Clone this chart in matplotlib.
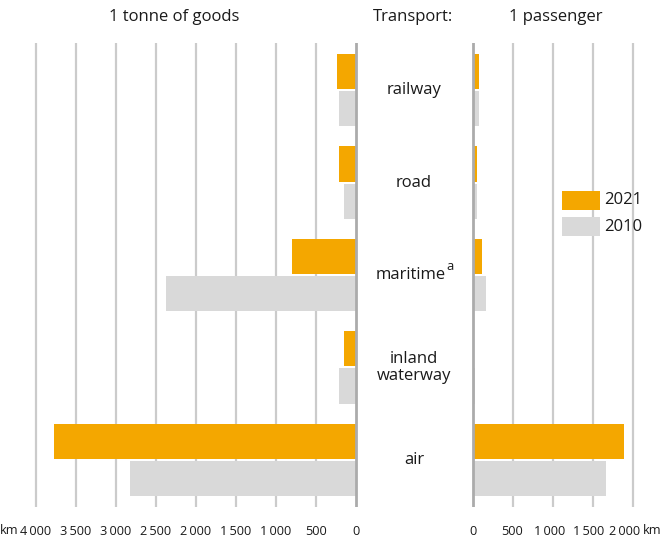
import matplotlib
matplotlib.use("Agg")
import matplotlib.pyplot as plt
import matplotlib.transforms as mtransforms
from matplotlib.patches import Rectangle
import numpy as np

plt.rcParams['font.family'] = ['Open Sans', 'DejaVu Sans']

categories = ["railway", "road", "maritime", "inland\nwaterway", "air"]
goods_2021 = [235, 210, 800, 145, 3770]
goods_2010 = [210, 145, 2370, 210, 2820]
pass_2021 = [75, 50, 112, 0, 1890]
pass_2010 = [75, 50, 162, 20, 1660]
goods_ticks = [4000, 3500, 3000, 2500, 2000, 1500, 1000, 500, 0]
pass_ticks = [0, 500, 1000, 1500, 2000]
series_labels = ["2021", "2010"]

ORANGE = "#F4A700"
GREY = "#D9D9D9"
GRID = "#CBCBCB"
ZERO = "#ABABAB"
TXT = "#1a1a1a"

W, H = 668, 541
fig = plt.figure(figsize=(W / 100, H / 100), dpi=100)

top_px, bot_px = 43, 507
scale = 0.08  # px per km
FS = 12
TFS = 9.2

def fmt(v):
    return f"{v:,}".replace(",", "\u2009")

# left axes: 0 at 355.7 px, 4000 at 35.7 px
mL_lo, mL_hi = -30, 4050
lp = 355.7 - mL_hi * scale
rp = 355.7 - mL_lo * scale
axL = fig.add_axes([lp / W, 1 - bot_px / H, (rp - lp) / W, (bot_px - top_px) / H])
axL.set_xlim(mL_hi, mL_lo)

mR_lo, mR_hi = -30, 2050
lp = 473.2 + mR_lo * scale
rp = 473.2 + mR_hi * scale
axR = fig.add_axes([lp / W, 1 - bot_px / H, (rp - lp) / W, (bot_px - top_px) / H])
axR.set_xlim(mR_lo, mR_hi)

n = len(categories)
y = np.arange(n)
bh = 35 / 92
gap = 2 / 92
off = (bh + gap) / 2

for ax, v21, v10, ticks in [(axL, goods_2021, goods_2010, goods_ticks),
                            (axR, pass_2021, pass_2010, pass_ticks)]:
    ax.set_ylim(n - 1 + 0.511, -0.511)
    for t in ticks:
        ax.axvline(t, color=ZERO if t == 0 else GRID, lw=2.0 if t == 0 else 1.6,
                   zorder=3 if t == 0 else 0)
    ax.barh(y - off, v21, height=bh, color=ORANGE, zorder=2, linewidth=0)
    ax.barh(y + off, v10, height=bh, color=GREY, zorder=2, linewidth=0)
    ax.set_xticks(ticks)
    ax.set_xticklabels([fmt(t) for t in ticks], fontsize=TFS, color=TXT)
    ax.tick_params(axis='x', length=0, pad=13)
    ax.set_yticks([])
    for s in ax.spines.values():
        s.set_visible(False)

# small horizontal nudges of tick labels as in the reference
shiftsL = {4000: 0}
shiftsR = {500: -1, 1000: -4, 1500: -5, 2000: -9}
for ax, shifts in [(axL, shiftsL), (axR, shiftsR)]:
    for tick, lab in zip(ax.get_xticks(), ax.get_xticklabels()):
        dx = shifts.get(int(round(tick)), 0)
        if dx:
            lab.set_transform(lab.get_transform() +
                              mtransforms.ScaledTranslation(dx / 100, 0, fig.dpi_scale_trans))

# category labels
trans = mtransforms.blended_transform_factory(fig.transFigure, axL.transData)
for i, c in enumerate(categories):
    if c == "maritime":
        t = fig.text(411 / W, i, "maritime", transform=trans, ha='center', va='center',
                     fontsize=FS, color=TXT)
        plt.annotate("a", xy=(1.0, 0.95), xycoords=t, ha='left', va='top',
                     fontsize=FS * 0.78, color=TXT, annotation_clip=False,
                     xytext=(0.2, 5.5), textcoords='offset points')
    else:
        fig.text(414 / W, i, c, transform=trans, ha='center', va='center',
                 fontsize=FS, color=TXT, linespacing=1.1)

# titles
fig.text(174 / W, 1 - 17 / H, "1 tonne of goods", ha='center', va='center', fontsize=FS, color=TXT)
fig.text(413 / W, 1 - 17 / H, "Transport:", ha='center', va='center', fontsize=FS, color=TXT)
fig.text(556 / W, 1 - 17 / H, "1 passenger", ha='center', va='center', fontsize=FS, color=TXT)

# km unit labels
fig.text(9 / W, 1 - 530 / H, "km", ha='center', va='center', fontsize=TFS, color=TXT)
fig.text(652 / W, 1 - 530 / H, "km", ha='center', va='center', fontsize=TFS, color=TXT)

# legend (manual)
for j, (lab, col) in enumerate(zip(series_labels, [ORANGE, GREY])):
    y0 = [191, 217][j]
    fig.patches.append(Rectangle((562 / W, 1 - (y0 + 19) / H), 38 / W, 19 / H,
                                 transform=fig.transFigure, facecolor=col, edgecolor='none'))
    fig.text(604 / W, 1 - (y0 + 9.5) / H, lab, ha='left', va='center', fontsize=FS, color=TXT)

fig.savefig("out.png", dpi=100, facecolor='white')
